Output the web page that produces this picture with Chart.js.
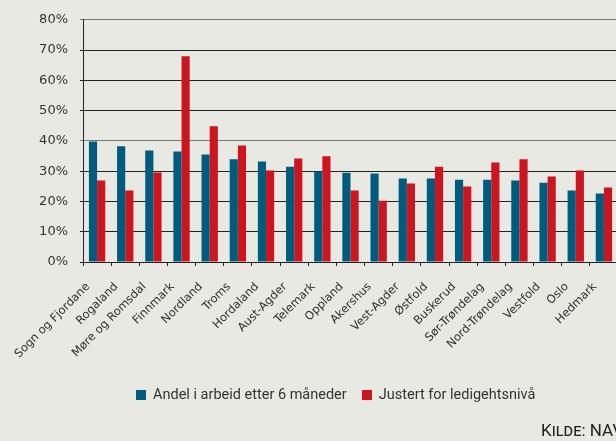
<!DOCTYPE html>
<html lang="no">
<head>
  <meta charset="UTF-8">
  <title>Andel i arbeid etter 6 måneder</title>
  <script src="https://cdn.jsdelivr.net/npm/chart.js"></script>
  <style>
    html, body {
      margin: 0;
      padding: 0;
      background: #e9e9e4;
      overflow: hidden;
    }
    .wrap {
      position: relative;
      width: 616px;
      height: 441px;
      overflow: hidden;
    }
    .legend {
      position: absolute;
      left: 136px;
      top: 386px;
      display: flex;
      font: 14.5px Roboto, sans-serif;
      color: #333;
    }
    .legend span.item {
      display: flex;
      align-items: center;
      margin-right: 15px;
    }
    .legend span.box {
      display: inline-block;
      width: 10px;
      height: 10px;
      margin-right: 7px;
    }
    .source {
      position: absolute;
      left: 541px;
      top: 420px;
      font: 17px Roboto, sans-serif;
      font-variant: small-caps;
      color: #222;
      white-space: nowrap;
    }
  </style>
</head>
<body>
<div class="wrap">
  <canvas id="chart" width="618" height="441"></canvas>
  <div class="legend" id="legend"></div>
  <div class="source">Kilde: NAV</div>
</div>

<script>
  // Fylker
  const counties = ['Sogn og Fjordane', 'Rogaland', 'Møre og Romsdal', 'Finnmark', 'Nordland',
    'Troms', 'Hordaland', 'Aust-Agder', 'Telemark', 'Oppland', 'Akershus', 'Vest-Agder',
    'Østfold', 'Buskerud', 'Sør-Trøndelag', 'Nord-Trøndelag', 'Vestfold', 'Oslo', 'Hedmark'];

  // Prosent, lest av grafen
  const inWork = [39.8, 38.2, 36.8, 36.5, 35.5, 33.9, 33.2, 31.5, 29.9, 29.5,
    29.2, 27.6, 27.6, 27.2, 27.2, 26.9, 26.2, 23.6, 22.6];
  const adjusted = [26.9, 23.6, 29.6, 68.0, 44.8, 38.5, 30.2, 34.2, 34.9, 23.6,
    20.2, 25.9, 31.5, 24.9, 32.9, 33.9, 28.2, 30.2, 24.6];

  const yTicks = [0, 10, 20, 30, 40, 50, 60, 70, 80];

  const blue = '#005b7d';
  const red = '#cd1520';

  const chart = new Chart(document.getElementById('chart'), {
    type: 'bar',
    data: {
      labels: counties,
      datasets: [
        {
          label: 'Andel i arbeid etter 6 måneder',
          data: inWork,
          backgroundColor: blue,
          barPercentage: 1,
          categoryPercentage: 0.58
        },
        {
          label: 'Justert for ledigehtsnivå',
          data: adjusted,
          backgroundColor: red,
          barPercentage: 1,
          categoryPercentage: 0.58
        }
      ]
    },
    options: {
      responsive: false,
      animation: false,
      layout: {
        padding: { top: 14, right: 0, bottom: 0, left: 0 }
      },
      plugins: {
        legend: { display: false },
        tooltip: { enabled: false }
      },
      scales: {
        x: {
          grid: {
            drawOnChartArea: false,
            drawTicks: true,
            tickLength: 4,
            color: '#222'
          },
          border: { color: '#222', width: 1 },
          ticks: {
            minRotation: 45,
            maxRotation: 45,
            padding: 14,
            labelOffset: -9,
            color: '#2e2e2e',
            font: { family: 'DejaVu Sans', size: 11.5 }
          },
          afterFit: scale => {
            scale.height = 179;
            scale.paddingRight = 0;
          }
        },
        y: {
          min: 0,
          max: 80,
          afterBuildTicks: scale => {
            scale.ticks = yTicks.map(v => ({ value: v }));
          },
          grid: {
            color: ctx => (ctx.tick && (ctx.tick.value === 80 || ctx.tick.value === 40)) ? '#7a7a7a' : '#222',
            tickLength: 3
          },
          border: { color: '#222', width: 1 },
          ticks: {
            padding: 12,
            color: '#333',
            font: { family: 'DejaVu Sans', size: 13 },
            callback: v => v + '%'
          },
          afterFit: scale => {
            scale.width = 83;
          }
        }
      }
    }
  });

  // Legende fra datasettene
  const legend = document.getElementById('legend');
  chart.data.datasets.forEach(ds => {
    const item = document.createElement('span');
    item.className = 'item';
    item.innerHTML = `<span class="box" style="background:${ds.backgroundColor}"></span>${ds.label}`;
    legend.appendChild(item);
  });
</script>
</body>
</html>
